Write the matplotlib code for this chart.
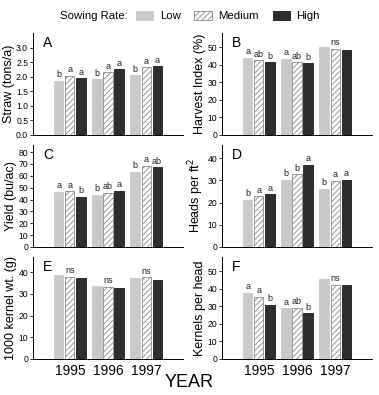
import numpy as np
import matplotlib.pyplot as plt
from matplotlib.patches import Patch

plt.rcParams['font.family'] = ['Liberation Sans', 'DejaVu Sans']
plt.rcParams['hatch.linewidth'] = 0.6

years = ['1995', '1996', '1997']
rates = ['Low', 'Medium', 'High']

# values per year, [Low, Medium, High]
straw = [[1.86, 2.03, 1.94], [1.91, 2.16, 2.25], [2.05, 2.33, 2.36]]
straw_lbl = [['b', 'a', 'a'], ['b', 'a', 'a'], ['b', 'a', 'a']]
harvest = [[44.0, 42.6, 41.3], [43.2, 41.3, 40.7], [49.8, 48.9, 48.3]]
harvest_lbl = [['a', 'ab', 'b'], ['a', 'ab', 'b'], ['', 'ns', '']]
yld = [[46.5, 47.0, 42.2], [44.2, 45.8, 47.2], [63.5, 68.5, 67.2]]
yld_lbl = [['a', 'a', 'b'], ['b', 'ab', 'a'], ['b', 'a', 'ab']]
heads = [[21.2, 22.9, 23.7], [30.4, 32.9, 37.2], [26.2, 29.9, 30.4]]
heads_lbl = [['b', 'a', 'a'], ['b', 'b', 'a'], ['b', 'a', 'a']]
kwt = [[38.7, 37.9, 37.1], [33.8, 33.3, 32.9], [37.1, 37.6, 36.4]]
kwt_lbl = [['', 'ns', ''], ['', 'ns', ''], ['', 'ns', '']]
kernels = [[37.6, 35.5, 30.7], [28.8, 29.0, 26.0], [45.5, 42.3, 42.1]]
kernels_lbl = [['a', 'a', 'b'], ['a', 'ab', 'b'], ['', 'ns', '']]

panels = [
    ('A', 'Straw (tons/a)', straw, straw_lbl, 3.5, np.arange(0, 3.01, 0.5), '%.1f'),
    ('B', 'Harvest Index (%)', harvest, harvest_lbl, 58, np.arange(0, 51, 10), '%d'),
    ('C', 'Yield (bu/ac)', yld, yld_lbl, 86, np.arange(0, 81, 10), '%d'),
    ('D', 'Heads per ft$^2$', heads, heads_lbl, 46, np.arange(0, 41, 10), '%d'),
    ('E', '1000 kernel wt. (g)', kwt, kwt_lbl, 47, np.arange(0, 41, 10), '%d'),
    ('F', 'Kernels per head', kernels, kernels_lbl, 58, np.arange(0, 51, 10), '%d'),
]

styles = [
    dict(color='#c9c9c9', edgecolor='#c9c9c9'),
    dict(color='white', edgecolor='#8a8a8a', hatch='//////'),
    dict(color='#2e2e2e', edgecolor='#1a1a1a'),
]

W, H = 379, 395
fig = plt.figure(figsize=(W / 100, H / 100), dpi=100)

lefts = [33, 222]
tops = [33, 145, 257]
aw, ah = 150, 102
x = np.arange(len(years))
bw = 0.24
offs = [-0.29, 0, 0.29]

for i, (letter, ylabel, vals, lbls, ytop, ticks, fmt) in enumerate(panels):
    r, c = divmod(i, 2)
    ax = fig.add_axes([lefts[c] / W, 1 - (tops[r] + ah) / H, aw / W, ah / H])
    vals = np.array(vals)
    for k in range(3):
        ax.bar(x + offs[k], vals[:, k], bw, linewidth=0.6, **styles[k])
        for j in range(3):
            if lbls[j][k]:
                ax.text(x[j] + offs[k], vals[j, k] + ytop * 0.015, lbls[j][k],
                        ha='center', va='bottom', fontsize=6.5, color='#222222')
    ax.set_xlim(-0.97, 2.97)
    ax.set_ylim(0, ytop)
    ax.set_yticks(ticks)
    ax.set_yticklabels([fmt % t for t in ticks], fontsize=6.2)
    ax.tick_params(axis='y', length=2.5, width=0.6, pad=1)
    ax.spines['top'].set_visible(False)
    ax.spines['right'].set_visible(False)
    for s in ('left', 'bottom'):
        ax.spines[s].set_linewidth(0.7)
    ax.set_xticks(x)
    ax.tick_params(axis='x', length=0)
    if r == 2:
        ax.set_xticklabels(years, fontsize=10)
    else:
        ax.set_xticklabels([])
    ax.set_ylabel(ylabel, fontsize=9, labelpad=1)
    ax.text(0.065, 0.97, letter, transform=ax.transAxes, fontsize=10, va='top', ha='left')

fig.text(0.5, 0.032, 'YEAR', ha='center', va='center', fontsize=13)

fig.text(94 / W, 1 - 16 / H, 'Sowing Rate:', ha='center', va='center', fontsize=8.2)
handles = [Patch(facecolor=s['color'], edgecolor=s['edgecolor'], hatch=s.get('hatch'), linewidth=0.6)
           for s in styles]
fig.legend(handles, rates, loc='center', bbox_to_anchor=(228 / W, 1 - 16 / H), ncol=3,
           frameon=False, fontsize=8.2, handlelength=1.5, handleheight=0.9,
           handletextpad=0.6, columnspacing=1.2, borderpad=0)

fig.savefig('out.png', dpi=100)
